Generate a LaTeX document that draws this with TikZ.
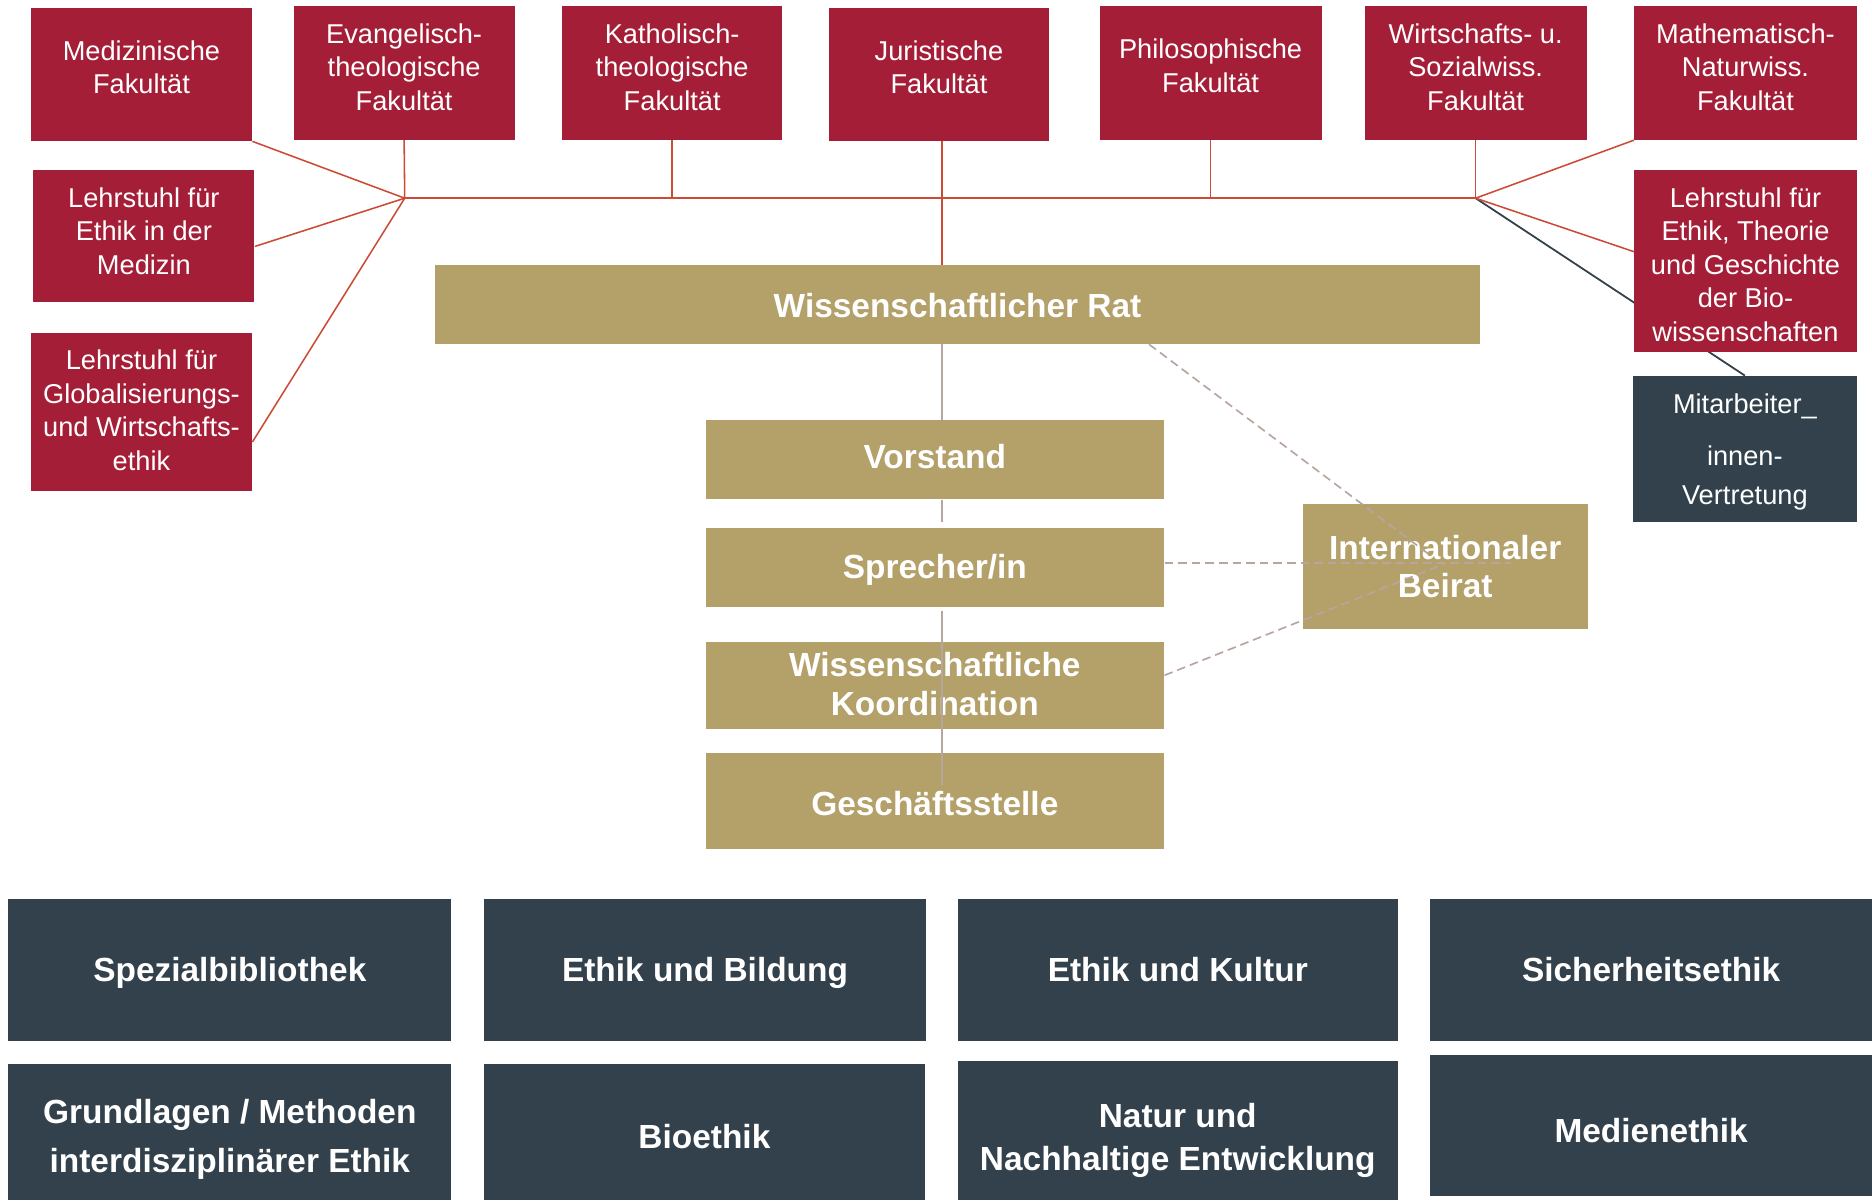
\documentclass[tikz,border=0pt]{standalone}
\usepackage{fontspec}
\setmainfont{Liberation Sans}
\usetikzlibrary{calc,backgrounds}
\definecolor{tured}{HTML}{A51E37}
\definecolor{tugold}{HTML}{B4A069}
\definecolor{tudark}{HTML}{32414B}
\definecolor{conred}{HTML}{CC4B37}
\definecolor{congrey}{HTML}{B7A6A0}
\newcommand{\liftby}[1]{\rule[-#1]{0pt}{#1}}
\newcommand{\topstrut}[1]{\rule{0pt}{#1}}
\begin{document}
\begin{tikzpicture}[x=0.5pt,y=-0.5pt,
  box/.style={inner sep=0pt, align=center, text=white, anchor=center},
  fac/.style={box, fill=tured, font=\fontsize{11.4}{14}\selectfont},
  goldbox/.style={box, fill=tugold, font=\fontsize{14}{16.5}\selectfont\bfseries},
  darkbox/.style={box, fill=tudark, font=\fontsize{14}{20.5}\selectfont\bfseries},
  redline/.style={draw=conred, line width=0.65pt},
  darkline/.style={draw=tudark, line width=0.75pt},
  greyline/.style={draw=congrey, line width=0.65pt},
  dashline/.style={draw=congrey, line width=0.7pt, dash pattern=on 3.6pt off 2.1pt}
]
\useasboundingbox (0,0) rectangle (1568,1008);

% faculty row
\node[fac, minimum width=92.5pt, minimum height=55.5pt] (med) at (118.5,62.5) {Medizinische\\Fakultät\liftby{6.5pt}};
\node[fac, minimum width=92.5pt, minimum height=56pt] (evang) at (338.5,61) {Evangelisch-\\theologische\\Fakultät\liftby{5pt}};
\node[fac, minimum width=92pt, minimum height=56pt] (kath) at (563,61) {Katholisch-\\theologische\\Fakultät\liftby{5pt}};
\node[fac, minimum width=92.5pt, minimum height=55.5pt] (jur) at (786.5,62.5) {Juristische\\Fakultät\liftby{6.5pt}};
\node[fac, minimum width=93pt, minimum height=56pt] (phil) at (1014,61) {Philosophische\\Fakultät\liftby{6pt}};
\node[fac, minimum width=93pt, minimum height=56pt] (wiso) at (1236,61) {Wirtschafts- u.\\Sozialwiss.\\Fakultät\liftby{5pt}};
\node[fac, minimum width=93pt, minimum height=56pt] (math) at (1462,61) {Mathematisch-\\Naturwiss.\\Fakultät\liftby{5pt}};

% chairs
\node[fac, minimum width=92.5pt, minimum height=55.5pt] (lmed) at (120.5,197.5) {Lehrstuhl für\\Ethik in der\\Medizin\liftby{4pt}};
\node[fac, minimum width=92.5pt, minimum height=66pt] (lglob) at (118.5,345) {Lehrstuhl für\\Globalisierungs-\\und Wirtschafts-\\ethik\liftby{1.5pt}};
\node[fac, minimum width=93pt, minimum height=76.5pt] (lbio) at (1462,218.5) {\topstrut{11.3pt}Lehrstuhl für\\Ethik, Theorie\\und Geschichte\\der Bio-\\wissenschaften};

\node[box, fill=tudark, font=\fontsize{11.4}{16.5}\selectfont, minimum width=93.5pt, minimum height=61pt] (mav) at (1461.5,376) {\topstrut{10.8pt}Mitarbeiter\_\\[5.5pt]innen-\\Vertretung};

% central bodies
\node[goldbox, minimum width=438pt, minimum height=33pt] (rat) at (802,255) {\topstrut{11.2pt}Wissenschaftlicher Rat};
\node[goldbox, minimum width=192pt, minimum height=33pt] (vor) at (783,385) {Vorstand\liftby{3pt}};
\node[goldbox, minimum width=192pt, minimum height=33pt] (spr) at (783,475) {\topstrut{12.2pt}Sprecher/in};
\node[goldbox, minimum width=192pt, minimum height=36.5pt] (koord) at (783,574.5) {Wissenschaftliche\\Koordination\liftby{1.5pt}};
\node[goldbox, minimum width=192pt, minimum height=40pt] (gs) at (783,671) {\topstrut{12.2pt}Geschäftsstelle};
\node[goldbox, font=\fontsize{14}{16}\selectfont\bfseries, minimum width=119.5pt, minimum height=52.5pt] (beirat) at (1210.5,474.5) {Internationaler\\Beirat};

% research areas
\node[darkbox, minimum width=185.5pt, minimum height=59.5pt] (b1) at (192.5,812.5) {\topstrut{12.2pt}Spezialbibliothek};
\node[darkbox, minimum width=185.5pt, minimum height=59.5pt] (b2) at (590.5,812.5) {\topstrut{12.2pt}Ethik und Bildung};
\node[darkbox, minimum width=184.5pt, minimum height=59.5pt] (b3) at (986.5,812.5) {Ethik und Kultur};
\node[darkbox, minimum width=185pt, minimum height=59.5pt] (b4) at (1383,812.5) {Sicherheitsethik};
\node[darkbox, minimum width=185.5pt, minimum height=57pt] (b5) at (192.5,948) {\topstrut{16.3pt}Grundlagen / Methoden\\interdisziplinärer Ethik};
\node[darkbox, minimum width=185pt, minimum height=57pt] (b6) at (590,948) {\topstrut{14.2pt}Bioethik};
\node[darkbox, font=\fontsize{14}{18}\selectfont\bfseries, minimum width=184.5pt, minimum height=58pt] (b7) at (986.5,947) {\topstrut{18.2pt}Natur und\\Nachhaltige Entwicklung};
\node[darkbox, minimum width=185pt, minimum height=59pt] (b8) at (1383,943) {\topstrut{14.2pt}Medienethik};

% hubs and anchor points
\coordinate (hubL) at (339,166);
\coordinate (hubR) at (1236,166);
\coordinate (sp) at (789,0);
\coordinate (ratdash) at ($(rat.south west)!0.683!(rat.south east)$);
\coordinate (ratdashend) at ($(ratdash)!0.95!(beirat.center)$);
\coordinate (sprdash) at ($(spr.north east)!0.45!(spr.south east)$);
\coordinate (beiratx) at ($(beirat.west)!0.73!(beirat.east)$);
\coordinate (beiratmid) at ($(beirat.center)+(0,-2.5)$);
\coordinate (koorddash) at ($(koord.north east)!0.38!(koord.south east)$);

\begin{scope}[on background layer]
\draw[darkline] (hubR) -- (mav.north);
\end{scope}

% red connectors
\draw[redline] (med.south east) -- (hubL);
\draw[redline] ($(lmed.north east)!0.58!(lmed.south east)$) -- (hubL);
\draw[redline] ($(lglob.north east)!0.69!(lglob.south east)$) -- (hubL);
\draw[redline] (evang.south) -- (hubL);
\draw[redline] (kath.south) -- (kath.south |- hubL);
\draw[redline, line width=0.8pt] (hubL) -- (hubR);
\draw[redline] (jur.south -| sp) -- (rat.north -| sp);
\draw[redline] (phil.south) -- (phil.south |- hubL);
\draw[redline] (wiso.south) -- (hubR);
\draw[redline] (math.south west) -- (hubR);
\draw[redline] ($(lbio.north west)!0.45!(lbio.south west)$) -- (hubR);

% grey connectors
\draw[greyline] (rat.south -| sp) -- (vor.north -| sp);
\draw[greyline] (vor.south -| sp) -- ($(spr.north -| sp)+(0,-4)$);
\draw[greyline] ($(spr.south -| sp)+(0,3)$) -- ($(gs.north -| sp)+(0,27)$);

% dashed connectors
\draw[dashline] (ratdash) -- (ratdashend);
\draw[dashline] (sprdash) -- (sprdash -| beiratx);
\draw[dashline] (koorddash) -- (beiratmid);
\end{tikzpicture}
\end{document}
